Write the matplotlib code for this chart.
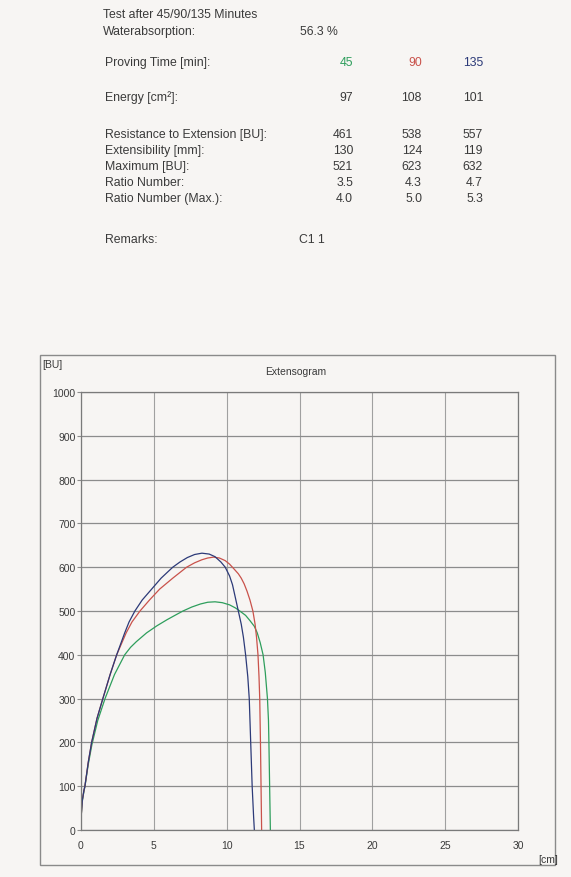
import matplotlib
matplotlib.use("Agg")
import matplotlib.pyplot as plt
from matplotlib.patches import Rectangle

plt.rcParams['font.family'] = ['Liberation Sans Narrow', 'Liberation Sans', 'DejaVu Sans']

# report header values
proving_times = ['45', '90', '135']
row_labels = ['Energy [cm²]:', 'Resistance to Extension [BU]:', 'Extensibility [mm]:',
              'Maximum [BU]:', 'Ratio Number:', 'Ratio Number (Max.):']
energy = ['97', '108', '101']
resistance = ['461', '538', '557']
extensibility = ['130', '124', '119']
maximum = ['521', '623', '632']
ratio_number = ['3.5', '4.3', '4.7']
ratio_number_max = ['4.0', '5.0', '5.3']
water_absorption = '56.3 %'
remarks = 'C1 1'

# extensogram curves: extension [cm] vs resistance [BU]
x_45 = [0, 0.05, 0.1, 0.2, 0.27, 0.5, 0.75, 1.15, 1.65, 2.3, 3.0, 3.4, 3.8, 4.5, 5.2,
        5.9, 6.5, 7.0, 7.6, 8.2, 8.7, 9.2, 9.7, 10.2, 10.6, 10.9, 11.3, 11.6, 11.9,
        12.1, 12.3, 12.5, 12.65, 12.8, 12.87, 12.9, 12.95, 13.0]
y_45 = [25, 50, 68, 88, 100, 150, 195, 250, 300, 355, 400, 417, 430, 450, 466,
        480, 491, 500, 509, 516, 520, 521, 519, 514, 507, 500, 490, 478, 465,
        450, 428, 400, 360, 300, 250, 200, 100, 0]
x_90 = [0, 0.05, 0.1, 0.2, 0.27, 0.5, 0.73, 1.1, 1.5, 2.0, 2.45, 3.1, 3.5, 4.05, 4.7,
        5.4, 6.3, 7.25, 7.8, 8.3, 8.7, 9.1, 9.5, 9.9, 10.2, 10.45, 10.8, 11.0, 11.2,
        11.4, 11.6, 11.8, 11.95, 12.05, 12.15, 12.22, 12.27, 12.32, 12.36, 12.4]
y_90 = [25, 50, 70, 90, 100, 155, 200, 255, 300, 355, 400, 450, 475, 500, 525,
        550, 575, 600, 610, 617, 621, 623, 621, 615, 607, 598, 585, 575, 562,
        545, 525, 500, 470, 440, 400, 350, 300, 200, 100, 0]
x_135 = [0, 0.05, 0.1, 0.2, 0.27, 0.5, 0.73, 1.1, 1.5, 2.0, 2.45, 3.0, 3.3, 3.7, 4.2,
         4.85, 5.5, 6.3, 6.8, 7.3, 7.8, 8.3, 8.8, 9.2, 9.6, 9.9, 10.2, 10.4, 10.6,
         10.8, 11.0, 11.15, 11.3, 11.45, 11.55, 11.65, 11.75, 11.85, 11.9]
y_135 = [25, 50, 70, 90, 100, 155, 200, 255, 300, 355, 400, 450, 475, 500, 525,
         550, 575, 600, 612, 622, 629, 632, 630, 624, 612, 600, 580, 560, 530,
         500, 470, 440, 400, 350, 300, 200, 100, 30, 0]

colors = ['#2e9e5c', '#c9524b', '#2c3a78']
paper = '#f7f5f3'
ink = '#3a3a3a'

W, H = 571, 878


def fx(px):
    return px / W


def fy(py):
    return 1 - py / H


fig = plt.figure(figsize=(W / 100, H / 100), dpi=100, facecolor=paper)

# header block
fs = 8.8
fig.text(fx(103), fy(15), 'Test after 45/90/135 Minutes', fontsize=fs, color=ink, va='center')
fig.text(fx(103), fy(32), 'Waterabsorption:', fontsize=fs, color=ink, va='center')
fig.text(fx(300), fy(32), water_absorption, fontsize=fs, color=ink, va='center')
fig.text(fx(105), fy(63), 'Proving Time [min]:', fontsize=fs, color=ink, va='center')
col_right = [353, 422, 483]
for t, c, xr in zip(proving_times, colors, col_right):
    fig.text(fx(xr), fy(63), t, fontsize=fs, color=c, va='center', ha='right')

rows = [energy, resistance, extensibility, maximum, ratio_number, ratio_number_max]
row_y = [98, 135, 151, 167, 183, 199]
for label, vals, ry in zip(row_labels, rows, row_y):
    fig.text(fx(105), fy(ry), label, fontsize=fs, color=ink, va='center')
    for v, xr in zip(vals, col_right):
        fig.text(fx(xr), fy(ry), v, fontsize=fs, color=ink, va='center', ha='right')

fig.text(fx(105), fy(240), 'Remarks:', fontsize=fs, color=ink, va='center')
fig.text(fx(299), fy(240), remarks, fontsize=fs, color=ink, va='center')

# outer frame of the chart
fig.patches.append(Rectangle((fx(40), fy(866)), (555 - 40) / W, (866 - 356) / H,
                             transform=fig.transFigure, fill=False,
                             edgecolor='#8a8a8a', lw=1.0))
fig.text(fx(42), fy(365), '[BU]', fontsize=7.5, color=ink, va='center')
fig.text(fx(296), fy(372), 'Extensogram', fontsize=7.5, color=ink, va='center', ha='center')
fig.text(fx(548), fy(860), '[cm]', fontsize=7.5, color=ink, va='center', ha='center')

ax = fig.add_axes([fx(81), fy(831), (518 - 81) / W, (831 - 393) / H])
ax.set_facecolor(paper)
ax.set_xlim(0, 30)
ax.set_ylim(0, 1000)
ax.set_xticks(range(0, 31, 5))
ax.set_yticks(range(0, 1001, 100))
ax.grid(True, axis='y', color='#8c8c8c', lw=0.9)
ax.grid(True, axis='x', color='#a0a0a0', lw=0.8)
ax.tick_params(axis='y', length=3, width=0.8, color='#8c8c8c', pad=1,
               labelsize=7.5, labelcolor=ink)
ax.tick_params(axis='x', length=0, pad=7, labelsize=7.5, labelcolor=ink)
for s in ax.spines.values():
    s.set_color('#7a7a7a')
    s.set_linewidth(0.9)

for xs, ys, c in zip([x_45, x_90, x_135], [y_45, y_90, y_135], colors):
    ax.plot(xs, ys, color=c, lw=0.9)

fig.savefig('out.png', dpi=100, facecolor=paper)
